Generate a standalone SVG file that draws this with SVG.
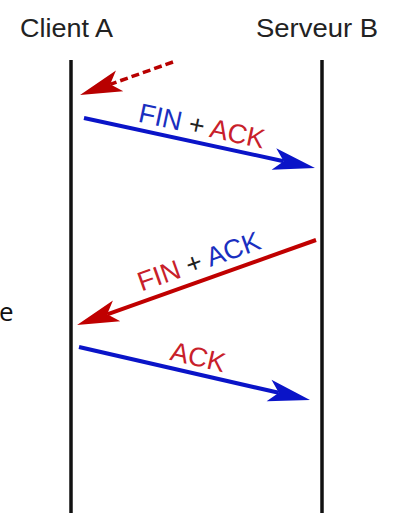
<svg xmlns="http://www.w3.org/2000/svg" width="395" height="513" viewBox="0 0 395 513">
<style>
.title{font-family:"Liberation Sans",Arial,sans-serif;font-size:26px;fill:#222}
.lbl{font-family:"Liberation Sans",Arial,sans-serif;font-size:27px}
.life{stroke:#111;stroke-width:3.5;fill:none}
.blue{fill:#1a2fc0}
.red{fill:#c8202a}
.plus{fill:#222}
.ab{stroke:#0a14c8;stroke-width:4;fill:none}
.ar{stroke:#c00000;stroke-width:4;fill:none}
.ad{stroke:#b80000;stroke-width:3.5;fill:none;stroke-dasharray:8 4}
</style>
<defs>
<marker id="hb" markerUnits="userSpaceOnUse" markerWidth="50" markerHeight="30" refX="10" refY="0" viewBox="0 -15 50 30" orient="auto" overflow="visible">
<path d="M42,0 L0,-11 L10,0 L0,11 Z" fill="#0a14c8"/>
</marker>
<marker id="hr" markerUnits="userSpaceOnUse" markerWidth="50" markerHeight="30" refX="10" refY="0" viewBox="0 -15 50 30" orient="auto" overflow="visible">
<path d="M42,0 L0,-11 L10,0 L0,11 Z" fill="#c00000"/>
</marker>
<marker id="hd" markerUnits="userSpaceOnUse" markerWidth="50" markerHeight="30" refX="10" refY="0" viewBox="0 -15 50 30" orient="auto" overflow="visible">
<path d="M42,0 L0,-11 L10,0 L0,11 Z" fill="#b80000"/>
</marker>
</defs>
<g id="clientA">
<text class="title" x="20" y="37" textLength="93" lengthAdjust="spacingAndGlyphs">Client A</text>
<line class="life" x1="71" y1="60" x2="71" y2="513"/>
</g>
<g id="serveurB">
<text class="title" x="256" y="37" textLength="122" lengthAdjust="spacingAndGlyphs">Serveur B</text>
<line class="life" x1="322" y1="60" x2="322" y2="513"/>
</g>
<g id="fragment">
<text x="-1" y="321" style="font-family:'Open Sans',sans-serif;font-size:26px;fill:#111">e</text>
</g>
<g id="connectors">
<line class="ad" x1="173" y1="62" x2="110.2" y2="84.3" marker-end="url(#hd)"/>
<line class="ab" x1="84" y1="118" x2="283.7" y2="161.2" marker-end="url(#hb)"/>
<line class="ar" x1="316" y1="240" x2="107.2" y2="314.3" marker-end="url(#hr)"/>
<line class="ab" x1="79" y1="347" x2="278.8" y2="392.8" marker-end="url(#hb)"/>
</g>
<g id="labels">
<text class="lbl" text-anchor="middle" transform="translate(200,135) rotate(12.2)"><tspan class="blue">FIN</tspan><tspan class="plus"> + </tspan><tspan class="red">ACK</tspan></text>
<text class="lbl" text-anchor="middle" transform="translate(202,270) rotate(-19.6)"><tspan class="red">FIN</tspan><tspan class="plus"> + </tspan><tspan class="blue">ACK</tspan></text>
<text class="lbl" text-anchor="middle" transform="translate(196,366) rotate(12.9)"><tspan class="red">ACK</tspan></text>
</g>
</svg>
